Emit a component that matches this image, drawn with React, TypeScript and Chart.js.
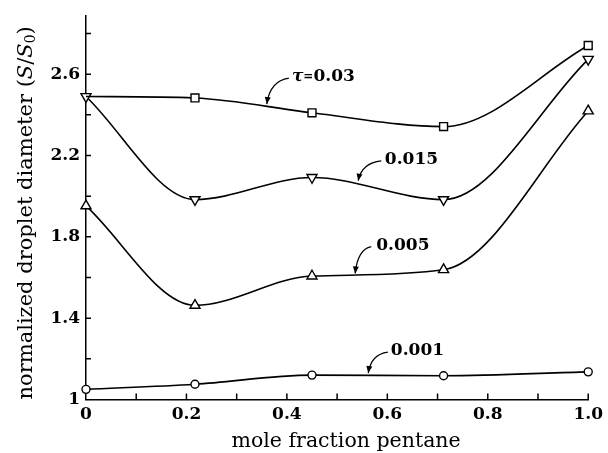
import React, { useEffect, useRef } from "react";
import { Chart, registerables } from "chart.js";

Chart.register(...registerables);

// Mole fraction of pentane at each measured composition
const moleFraction = [0, 0.217, 0.45, 0.712, 1.0];

// Normalized droplet diameter S/S0 for each dimensionless time τ
const tau030 = [2.49, 2.483, 2.41, 2.342, 2.741];
const tau015 = [2.49, 1.983, 2.092, 1.983, 2.673];
const tau005 = [1.952, 1.463, 1.607, 1.638, 2.419];
const tau001 = [1.05, 1.075, 1.12, 1.117, 1.136];

// Axis ticks and labels
const xMinorTicks = [0.1, 0.2, 0.3, 0.4, 0.5, 0.6, 0.7, 0.8, 0.9, 1.0];
const xTickValues = [0, 0.2, 0.4, 0.6, 0.8, 1.0];
const xTickLabels = ["0", "0.2", "0.4", "0.6", "0.8", "1.0"];
const yMinorTicks = [1.2, 1.4, 1.6, 1.8, 2.0, 2.2, 2.4, 2.6, 2.8];
const yTickValues = [1, 1.4, 1.8, 2.2, 2.6];
const yTickLabels = ["1", "1.4", "1.8", "2.2", "2.6"];
const yMin = 1;
const yMax = 2.885;

const LABEL_FONT = "bold 17px 'DejaVu Serif'";

// Curve labels: text anchor, arrow start and arrow tip in data units
const curveLabels = [
  { parts: [["τ", "italic bold 17px 'DejaVu Serif'"], ["=", "bold 12px 'DejaVu Serif'"], ["0.03", LABEL_FONT]], at: [0.41, 2.586], from: [0.404, 2.58], to: [0.36, 2.453] },
  { parts: [["0.015", LABEL_FONT]], at: [0.595, 2.179], from: [0.588, 2.174], to: [0.542, 2.076] },
  { parts: [["0.005", LABEL_FONT]], at: [0.578, 1.757], from: [0.568, 1.752], to: [0.536, 1.62] },
  { parts: [["0.001", LABEL_FONT]], at: [0.607, 1.243], from: [0.601, 1.233], to: [0.562, 1.13] },
];

const INK = "#000";

const decorPlugin = {
  id: "decor",
  afterDraw(chart: any) {
    const { ctx, chartArea } = chart;
    const xs = chart.scales.x;
    const ys = chart.scales.y;
    ctx.save();
    ctx.strokeStyle = INK;
    ctx.fillStyle = INK;
    ctx.lineWidth = 1.5;

    // inward tick marks
    ctx.beginPath();
    for (const v of xMinorTicks) {
      const px = xs.getPixelForValue(v);
      ctx.moveTo(px, chartArea.bottom);
      ctx.lineTo(px, chartArea.bottom - 6);
    }
    for (const v of yMinorTicks) {
      const py = ys.getPixelForValue(v);
      ctx.moveTo(chartArea.left, py);
      ctx.lineTo(chartArea.left + 5, py);
    }
    ctx.stroke();

    // x-axis title
    ctx.font = "20.5px 'DejaVu Serif'";
    ctx.textAlign = "center";
    ctx.textBaseline = "alphabetic";
    ctx.fillText("mole fraction pentane", (chartArea.left + chartArea.right) / 2 + 9, 447);

    // y-axis title with italic symbols and subscript
    const segs: [string, string, number][] = [
      ["normalized droplet diameter (", "21px 'DejaVu Serif'", 0],
      ["S", "italic 21px 'DejaVu Serif'", 0],
      ["/", "21px 'DejaVu Serif'", 0],
      ["S", "italic 21px 'DejaVu Serif'", 0],
      ["0", "14px 'DejaVu Serif'", 4],
      [")", "21px 'DejaVu Serif'", 0],
    ];
    ctx.save();
    ctx.translate(27, (chartArea.top + chartArea.bottom) / 2 + 5);
    ctx.rotate(-Math.PI / 2);
    ctx.textAlign = "left";
    ctx.textBaseline = "middle";
    let total = 0;
    for (const [t, f] of segs) {
      ctx.font = f;
      total += ctx.measureText(t).width;
    }
    let cx = -total / 2;
    for (const [t, f, dy] of segs) {
      ctx.font = f;
      ctx.fillText(t, cx, dy);
      cx += ctx.measureText(t).width;
    }
    ctx.restore();

    // curve labels with curved arrows
    ctx.lineWidth = 1.3;
    for (const lab of curveLabels) {
      const tx = xs.getPixelForValue(lab.at[0]);
      const ty = ys.getPixelForValue(lab.at[1]);
      ctx.textAlign = "left";
      ctx.textBaseline = "middle";
      let px = tx;
      for (const [t, f] of lab.parts) {
        ctx.font = f;
        ctx.fillText(t, px, ty);
        px += ctx.measureText(t).width;
      }
      const sx = xs.getPixelForValue(lab.from[0]);
      const sy = ys.getPixelForValue(lab.from[1]);
      const ex = xs.getPixelForValue(lab.to[0]);
      const ey = ys.getPixelForValue(lab.to[1]);
      const qx = ex + (sx - ex) * 0.15;
      const qy = sy + (ey - sy) * 0.1;
      ctx.beginPath();
      ctx.moveTo(sx, sy);
      ctx.quadraticCurveTo(qx, qy, ex, ey);
      ctx.stroke();
      const ang = Math.atan2(ey - qy, ex - qx);
      const L = 7;
      const W = 3;
      ctx.beginPath();
      ctx.moveTo(ex, ey);
      ctx.lineTo(ex - L * Math.cos(ang) + W * Math.sin(ang), ey - L * Math.sin(ang) - W * Math.cos(ang));
      ctx.lineTo(ex - L * Math.cos(ang) - W * Math.sin(ang), ey - L * Math.sin(ang) + W * Math.cos(ang));
      ctx.closePath();
      ctx.fill();
    }
    ctx.restore();
  },
};

function series(label: string, values: number[], style: string, radius: number | number[], rotation = 0) {
  return {
    label,
    data: moleFraction.map((x, i) => ({ x, y: values[i] })),
    borderColor: INK,
    borderWidth: 1.6,
    backgroundColor: "#fff",
    pointStyle: style,
    pointRadius: radius,
    pointRotation: rotation,
    pointBorderColor: INK,
    pointBackgroundColor: "#fff",
    pointBorderWidth: 1.4,
    cubicInterpolationMode: "monotone",
    fill: false,
    clip: false,
  };
}

export default function App() {
  const canvasRef = useRef<HTMLCanvasElement | null>(null);

  useEffect(() => {
    const canvas = canvasRef.current;
    if (!canvas) return;
    const tickFont = { family: "'DejaVu Serif'", size: 17, weight: "bold" };
    const chart = new Chart(canvas, {
      type: "line",
      data: {
        datasets: [
          series("τ=0.03", tau030, "rect", [0, 5.6, 5.6, 5.6, 5.6]),
          series("0.015", tau015, "triangle", 5.8, 180),
          series("0.005", tau005, "triangle", 5.8),
          series("0.001", tau001, "circle", 4),
        ] as any,
      },
      options: {
        responsive: false,
        animation: false,
        devicePixelRatio: 1,
        layout: { padding: { left: 0, right: 16.5, top: 15, bottom: 0 } },
        plugins: { legend: { display: false }, tooltip: { enabled: false } },
        scales: {
          x: {
            type: "linear",
            min: 0,
            max: 1,
            afterFit: (s: any) => { s.height = 53.5; },
            grid: { display: false, drawTicks: false },
            border: { display: true, color: INK, width: 1.5 },
            ticks: {
              stepSize: 0.2,
              autoSkip: false,
              maxRotation: 0,
              padding: 5,
              color: INK,
              font: tickFont,
              callback: (v: any) => {
                const i = xTickValues.findIndex((t) => Math.abs(t - Number(v)) < 1e-6);
                return i >= 0 ? xTickLabels[i] : "";
              },
            },
          },
          y: {
            type: "linear",
            min: yMin,
            max: yMax,
            afterFit: (s: any) => { s.width = 86; },
            grid: { display: false, drawTicks: false },
            border: { display: true, color: INK, width: 1.5 },
            ticks: {
              stepSize: 0.2,
              autoSkip: false,
              padding: 6,
              color: INK,
              font: tickFont,
              callback: (v: any) => {
                const i = yTickValues.findIndex((t) => Math.abs(t - Number(v)) < 1e-6);
                return i >= 0 ? yTickLabels[i] : "";
              },
            },
          },
        },
      },
      plugins: [decorPlugin],
    } as any);
    return () => chart.destroy();
  }, []);

  return (
    <div style={{ position: "absolute", left: 0, top: 0, width: 608, height: 453, background: "#fff" }}>
      <canvas ref={canvasRef} width={608} height={453} />
    </div>
  );
}
